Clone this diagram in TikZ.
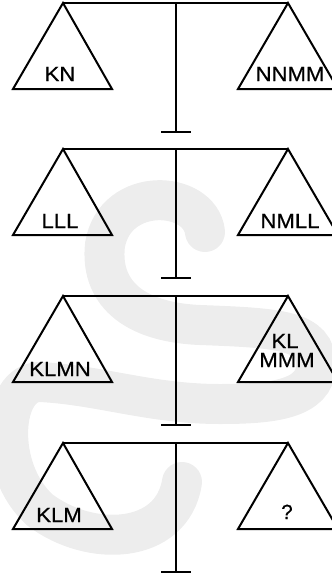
\documentclass[tikz,border=0pt]{standalone}
\usepackage{fontspec}
\setmainfont{Liberation Sans}
\newfontfamily\lblfont{Liberation Sans}[FakeBold=0.6]
\begin{document}
\begin{tikzpicture}[x=1pt,y=-1pt,
  ln/.style={line width=2pt,line cap=butt},
  lbl/.style={inner sep=0pt,anchor=base,font=\lblfont\fontsize{20.5}{20.5}\selectfont},
  wm/.style={line width=40pt,line cap=round,draw=black!7}]
\useasboundingbox (0,0) rectangle (332,574);
\begin{scope}
\clip (0,0) rectangle (332,574);
% faint stippled watermark
\draw[wm] (205,232) .. controls (200,190) and (115,185) .. (105,245)
  .. controls (100,290) and (130,322) .. (200,325)
  .. controls (280,328) and (316,330) .. (316,365)
  .. controls (316,400) and (270,404) .. (220,404)
  .. controls (150,404) and (100,385) .. (40,382)
  .. controls (0,382) and (-5,470) .. (40,510)
  .. controls (90,548) and (172,545) .. (182,482);
% four balances
\foreach \i/\yb in {1/3,2/149,3/296,4/443}{
  \coordinate (la\i) at (63,\yb);
  \coordinate (ra\i) at (288,\yb);
  \coordinate (lbl\i) at (13,\yb+86);
  \coordinate (lbr\i) at (112,\yb+86);
  \coordinate (rbl\i) at (238,\yb+86);
  \coordinate (rbr\i) at (338,\yb+86);
  \coordinate (pt\i) at (175.5,\yb);
  \coordinate (pb\i) at (175.5,\yb+129);
  \coordinate (fl\i) at (161,\yb+129);
  \coordinate (fr\i) at (191,\yb+129);
  \draw[ln] (la\i) -- (ra\i);
  \draw[ln,line join=miter] (lbl\i) -- (la\i) -- (lbr\i) -- cycle;
  \draw[ln,line join=miter] (rbl\i) -- (ra\i) -- (rbr\i) -- cycle;
  \draw[ln] (pt\i) -- (pb\i);
  \draw[ln] (fl\i) -- (fr\i);
}
\end{scope}
% labels
\node[lbl] (t1l) at (60,81) {\scalebox{1.08}[1]{KN}};
\node[lbl] (t1r) at (290,81) {\scalebox{1.08}[1]{NNMM}};
\node[lbl] (t2l) at (60,228) {\scalebox{1.08}[1]{LLL}};
\node[lbl] (t2r) at (290,228) {\scalebox{1.08}[1]{NMLL}};
\node[lbl] (t3l) at (60,376) {\scalebox{1.08}[1]{KLMN}};
\node[lbl] (t3ra) at (285,348) {\scalebox{1.08}[1]{KL}};
\node[lbl] (t3rb) at (287,367) {\scalebox{1.08}[1]{MMM}};
\node[lbl] (t4l) at (59,522) {\scalebox{1.08}[1]{KLM}};
\node[lbl] (t4r) at (287,519) {?};
\end{tikzpicture}
\end{document}
